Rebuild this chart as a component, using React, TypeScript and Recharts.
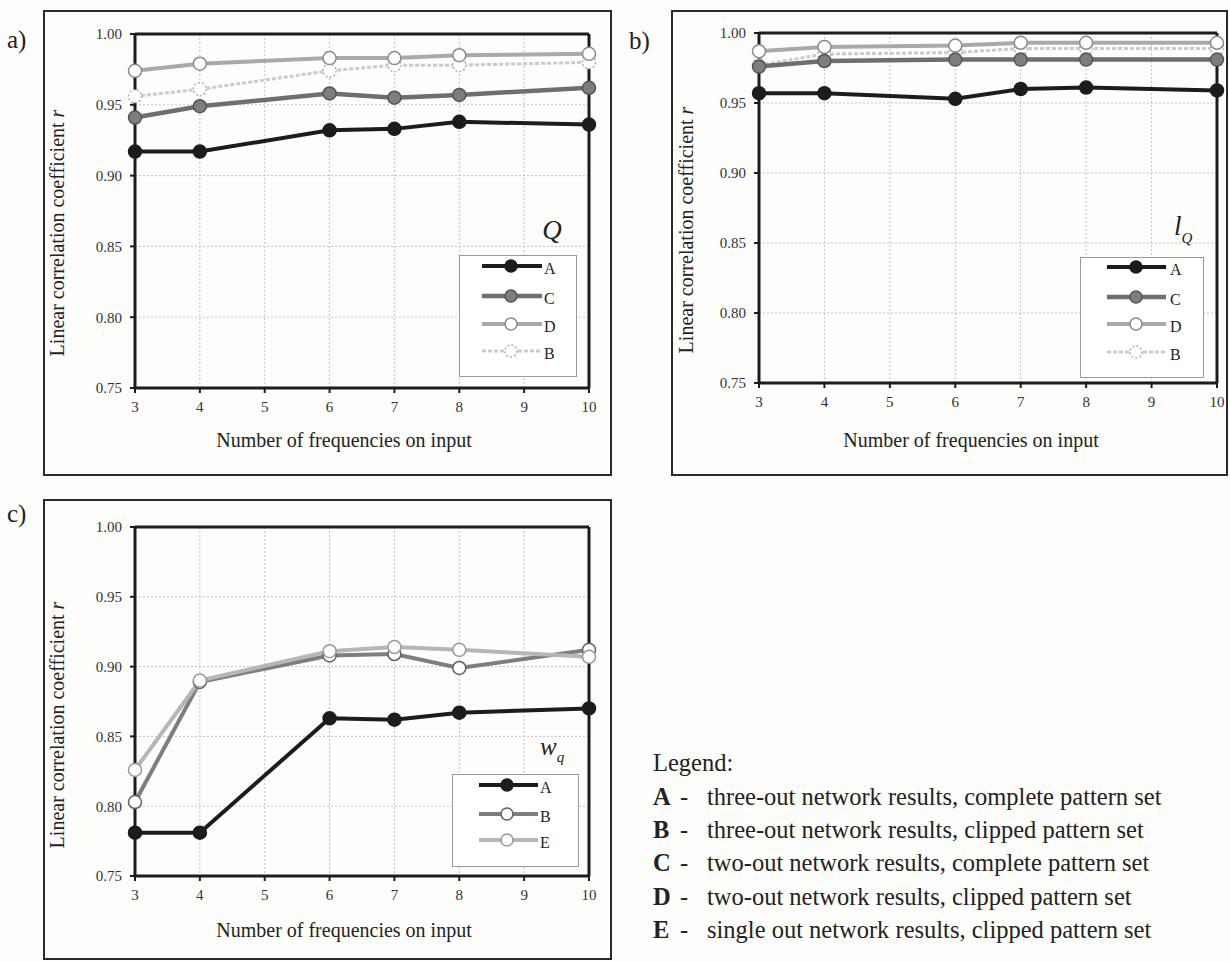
import React from 'react';
import { LineChart, Line, XAxis, YAxis, CartesianGrid, ReferenceLine, Legend, Label } from 'recharts';

// x values that were actually measured (no points at 5 and 9)
const frequencies = [3, 4, 6, 7, 8, 10];
const xTicks = [3, 4, 5, 6, 7, 8, 9, 10];
const yTicks = [0.75, 0.8, 0.85, 0.9, 0.95, 1.0];

// a) Q
const qA = [0.917, 0.917, 0.932, 0.933, 0.938, 0.936];
const qC = [0.941, 0.949, 0.958, 0.955, 0.957, 0.962];
const qD = [0.974, 0.979, 0.983, 0.983, 0.985, 0.986];
const qB = [0.956, 0.961, 0.974, 0.978, 0.978, 0.98];

// b) lQ
const lA = [0.957, 0.957, 0.953, 0.96, 0.961, 0.959];
const lC = [0.976, 0.98, 0.981, 0.981, 0.981, 0.981];
const lD = [0.987, 0.99, 0.991, 0.993, 0.993, 0.993];
const lB = [0.977, 0.985, 0.986, 0.989, 0.989, 0.989];

// c) wq
const wA = [0.781, 0.781, 0.863, 0.862, 0.867, 0.87];
const wB = [0.803, 0.889, 0.908, 0.909, 0.899, 0.912];
const wE = [0.826, 0.89, 0.911, 0.914, 0.912, 0.907];

const legendLetters = ['A', 'B', 'C', 'D', 'E'];
const legendDescriptions = [
  'three-out network results, complete pattern set',
  'three-out network results, clipped pattern set',
  'two-out network results, complete pattern set',
  'two-out network results, clipped pattern set',
  'single out network results, clipped pattern set',
];

const SERIF = "'Liberation Serif', 'Times New Roman', Times, serif";
const INK = '#1c1c1c';

type SeriesStyle = {
  stroke: string;
  width: number;
  dash?: string;
  dotFill: string;
  dotStroke: string;
  dotDash?: string;
};

const styleA: SeriesStyle = { stroke: INK, width: 4, dotFill: INK, dotStroke: INK };
const styleC: SeriesStyle = { stroke: '#6e6e6e', width: 4.5, dotFill: '#7d7d7d', dotStroke: '#555' };
const styleD: SeriesStyle = { stroke: '#a9a9a9', width: 4, dotFill: '#fff', dotStroke: '#8a8a8a' };
const styleBLight: SeriesStyle = {
  stroke: '#cbcbcb', width: 3, dash: '4 2', dotFill: '#fff', dotStroke: '#b0b0b0', dotDash: '2 2',
};
const styleBDark: SeriesStyle = { stroke: '#7e7e7e', width: 4, dotFill: '#fff', dotStroke: '#606060' };
const styleE: SeriesStyle = { stroke: '#b6b6b6', width: 4, dotFill: '#fff', dotStroke: '#999' };

const buildRows = (series: Record<string, number[]>) =>
  frequencies.map((n, i) => {
    const row: Record<string, number> = { n };
    Object.keys(series).forEach((k) => (row[k] = series[k][i]));
    return row;
  });

const tickStyle = { fill: '#333', fontSize: 15, fontFamily: SERIF };

const yTitle = (x: number, y: number) => () => (
  <text
    x={x + 7}
    y={y}
    transform={`rotate(-90 ${x + 7} ${y})`}
    textAnchor="middle"
    fontFamily={SERIF}
    fontSize={20}
    fill="#222"
  >
    Linear correlation coefficient <tspan fontStyle="italic">r</tspan>
  </text>
);

const xTitle = (x: number, y: number) => () => (
  <text x={x} y={y + 7} textAnchor="middle" fontFamily={SERIF} fontSize={20} fill="#222">
    Number of frequencies on input
  </text>
);

type LegendCfg = {
  left: number;
  top: number;
  w: number;
  h: number;
  rowsY: number[];
  lineX: [number, number];
  markX: number;
  labelX: number;
};

const LegendBox = ({ payload, order, styles, cfg, title }: any) => {
  const names: string[] = order.filter(
    (k: string) => !payload || payload.length === 0 || payload.some((p: any) => p.value === k)
  );
  const c: LegendCfg = cfg;
  return (
    <svg width={c.w} height={c.h} style={{ overflow: 'visible', display: 'block' }}>
      <rect x={0.5} y={0.5} width={c.w - 1} height={c.h - 1} fill="#fff" stroke="#9a9a9a" />
      {title}
      {names.map((k, i) => {
        const s: SeriesStyle = styles[k];
        const y = c.rowsY[i];
        return (
          <g key={k}>
            <line x1={c.lineX[0]} x2={c.lineX[1]} y1={y} y2={y} stroke={s.stroke} strokeWidth={s.width} strokeDasharray={s.dash} />
            <circle cx={c.markX} cy={y} r={6} fill={s.dotFill} stroke={s.dotStroke} strokeWidth={1.5} strokeDasharray={s.dotDash} />
            <text x={c.labelX} y={y + 8} fontSize={16} fontFamily={SERIF} fill="#222">
              {k}
            </text>
          </g>
        );
      })}
    </svg>
  );
};

type PanelCfg = {
  id: string;
  letter: string;
  letterPos: { left: number; top: number };
  box: { left: number; top: number; width: number; height: number };
  margin: { top: number; right: number; bottom: number; left: number };
  yAxisWidth: number;
  xAxisHeight: number;
  series: Record<string, number[]>;
  drawOrder: string[];
  legendOrder: string[];
  styles: Record<string, SeriesStyle>;
  legend: LegendCfg;
  legendTitle: React.ReactNode;
  yTitlePos: { x: number; y: number };
  xTitlePos: { x: number; y: number };
};

const panels: PanelCfg[] = [
  {
    id: 'a',
    letter: 'a)',
    letterPos: { left: 7, top: 26 },
    box: { left: 43, top: 10, width: 569, height: 466 },
    margin: { top: 24, right: 23, bottom: 0, left: 0 },
    yAxisWidth: 92,
    xAxisHeight: 88,
    series: { A: qA, B: qB, C: qC, D: qD },
    drawOrder: ['B', 'D', 'C', 'A'],
    legendOrder: ['A', 'C', 'D', 'B'],
    styles: { A: styleA, B: styleBLight, C: styleC, D: styleD },
    legend: { left: 416, top: 245, w: 118, h: 122, rowsY: [11, 41, 69, 96], lineX: [23, 83], markX: 52, labelX: 85 },
    legendTitle: (
      <text x={93} y={-16} textAnchor="middle" fontStyle="italic" fontSize={27} fontFamily={SERIF} fill="#222">
        Q
      </text>
    ),
    yTitlePos: { x: 14, y: 223 },
    xTitlePos: { x: 301, y: 430 },
  },
  {
    id: 'b',
    letter: 'b)',
    letterPos: { left: 629, top: 27 },
    box: { left: 671, top: 10, width: 557, height: 466 },
    margin: { top: 23, right: 11, bottom: 0, left: 0 },
    yAxisWidth: 88,
    xAxisHeight: 93,
    series: { A: lA, B: lB, C: lC, D: lD },
    drawOrder: ['B', 'D', 'C', 'A'],
    legendOrder: ['A', 'C', 'D', 'B'],
    styles: { A: styleA, B: styleBLight, C: styleC, D: styleD },
    legend: { left: 409, top: 247, w: 124, h: 121, rowsY: [10, 40, 67, 95], lineX: [27, 86], markX: 56, labelX: 90 },
    legendTitle: (
      <text x={94} y={-22} fontStyle="italic" fontSize={27} fontFamily={SERIF} fill="#222">
        l<tspan fontSize={15} dy={8}>Q</tspan>
      </text>
    ),
    yTitlePos: { x: 15, y: 220 },
    xTitlePos: { x: 300, y: 430 },
  },
  {
    id: 'c',
    letter: 'c)',
    letterPos: { left: 7, top: 500 },
    box: { left: 43, top: 499, width: 569, height: 461 },
    margin: { top: 28, right: 23, bottom: 0, left: 0 },
    yAxisWidth: 92,
    xAxisHeight: 84,
    series: { A: wA, B: wB, E: wE },
    drawOrder: ['A', 'B', 'E'],
    legendOrder: ['A', 'B', 'E'],
    styles: { A: styleA, B: styleBDark, E: styleE },
    legend: { left: 409, top: 275, w: 127, h: 93, rowsY: [11, 40, 66], lineX: [27, 86], markX: 55, labelX: 88 },
    legendTitle: (
      <text x={88} y={-19} fontStyle="italic" fontSize={25} fontFamily={SERIF} fill="#222">
        w<tspan fontSize={15} dy={7}>q</tspan>
      </text>
    ),
    yTitlePos: { x: 14, y: 226 },
    xTitlePos: { x: 301, y: 431 },
  },
];

const Panel = ({ cfg }: { cfg: PanelCfg }) => {
  const data = buildRows(cfg.series);
  const { box } = cfg;
  return (
    <>
      <div
        style={{
          position: 'absolute',
          left: cfg.letterPos.left,
          top: cfg.letterPos.top,
          fontSize: 25,
          lineHeight: '28px',
          color: '#222',
        }}
      >
        {cfg.letter}
      </div>
      <div
        style={{
          position: 'absolute',
          left: box.left,
          top: box.top,
          width: box.width,
          height: box.height,
          border: '2px solid #2a2a2a',
          boxSizing: 'border-box',
        }}
      />
      <div style={{ position: 'absolute', left: box.left, top: box.top }}>
        <LineChart width={box.width} height={box.height} data={data} margin={cfg.margin}>
          <CartesianGrid stroke="#c2c2c2" strokeDasharray="2 2" />
          <XAxis
            dataKey="n"
            type="number"
            domain={[3, 10]}
            ticks={xTicks}
            interval={0}
            height={cfg.xAxisHeight}
            tick={tickStyle}
            tickSize={5}
            tickMargin={8}
            axisLine={{ stroke: INK, strokeWidth: 3 }}
            tickLine={{ stroke: INK, strokeWidth: 2 }}
          >
            <Label content={xTitle(cfg.xTitlePos.x, cfg.xTitlePos.y)} />
          </XAxis>
          <YAxis
            type="number"
            domain={[0.75, 1]}
            ticks={yTicks}
            interval={0}
            width={cfg.yAxisWidth}
            tickFormatter={(v: number) => v.toFixed(2)}
            tick={tickStyle}
            tickSize={5}
            tickMargin={8}
            axisLine={{ stroke: INK, strokeWidth: 3 }}
            tickLine={{ stroke: INK, strokeWidth: 2 }}
          >
            <Label content={yTitle(cfg.yTitlePos.x, cfg.yTitlePos.y)} />
          </YAxis>
          <ReferenceLine y={1} stroke={INK} strokeWidth={3} />
          <ReferenceLine x={10} stroke={INK} strokeWidth={3} />
          {cfg.drawOrder.map((k) => {
            const s = cfg.styles[k];
            return (
              <Line
                key={k}
                type="linear"
                dataKey={k}
                name={k}
                stroke={s.stroke}
                strokeWidth={s.width}
                strokeDasharray={s.dash}
                dot={{ r: 6.5, fill: s.dotFill, stroke: s.dotStroke, strokeWidth: 1.5, strokeDasharray: s.dotDash || '0' }}
                activeDot={false}
                isAnimationActive={false}
              />
            );
          })}
          <Legend
            layout="vertical"
            align="center"
            verticalAlign="middle"
            wrapperStyle={{
              left: cfg.legend.left,
              top: cfg.legend.top,
              width: cfg.legend.w,
              height: cfg.legend.h,
              overflow: 'visible',
            }}
            content={(props: any) => (
              <LegendBox
                payload={props.payload}
                order={cfg.legendOrder}
                styles={cfg.styles}
                cfg={cfg.legend}
                title={cfg.legendTitle}
              />
            )}
          />
        </LineChart>
      </div>
    </>
  );
};

const lineCenters = [797, 830, 863, 897, 930];

const LegendText = () => (
  <div style={{ fontSize: 24.5, color: '#222' }}>
    <div style={{ position: 'absolute', left: 653, top: 763 - 14, lineHeight: '28px' }}>Legend:</div>
    {legendLetters.map((letter, i) => (
      <div key={letter} style={{ position: 'absolute', left: 653, top: lineCenters[i] - 14, lineHeight: '28px', whiteSpace: 'nowrap' }}>
        <span style={{ fontWeight: 'bold' }}>{letter}</span>
        <span style={{ position: 'absolute', left: 27 }}>-</span>
        <span style={{ position: 'absolute', left: 54 }}>{legendDescriptions[i]}</span>
      </div>
    ))}
  </div>
);

export default function App() {
  return (
    <div
      style={{
        position: 'absolute',
        left: 0,
        top: 0,
        width: 1230,
        height: 962,
        background: '#fdfdfc',
        overflow: 'hidden',
        fontFamily: SERIF,
      }}
    >
      {panels.map((p) => (
        <Panel key={p.id} cfg={p} />
      ))}
      <LegendText />
    </div>
  );
}
